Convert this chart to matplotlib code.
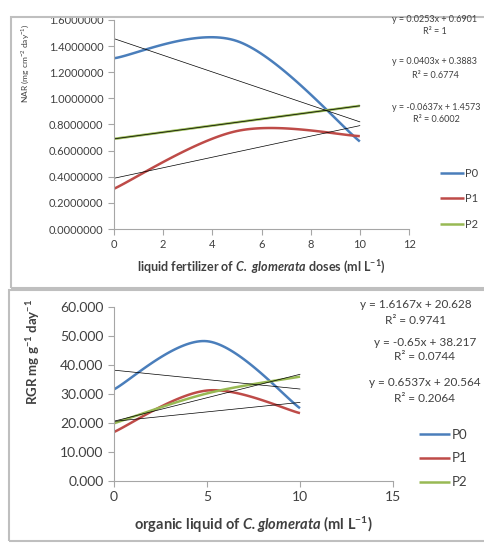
import numpy as np
import matplotlib.pyplot as plt
from matplotlib.patches import Rectangle

plt.rcParams['font.family'] = ['Lato', 'DejaVu Sans']
plt.rcParams['mathtext.fontset'] = 'custom'
plt.rcParams['mathtext.default'] = 'regular'
plt.rcParams['mathtext.bfit'] = 'Lato:italic:bold'
plt.rcParams['mathtext.it'] = 'Lato:italic'

# top chart: NAR
nar_x = [0, 5, 10]
nar_p0 = [1.307, 1.439, 0.670]
nar_p1 = [0.308, 0.750, 0.711]
nar_p2 = [0.690, 0.817, 0.943]
nar_fits = [(0.0253, 0.6901, '1'), (0.0403, 0.3883, '0.6774'), (-0.0637, 1.4573, '0.6002')]

# bottom chart: RGR
rgr_x = [0, 5, 10]
rgr_p0 = [31.6, 48.2, 25.1]
rgr_p1 = [16.9, 31.2, 23.4]
rgr_p2 = [19.9, 30.2, 36.0]
rgr_fits = [(1.6167, 20.628, '0.9741'), (-0.65, 38.217, '0.0744'), (0.6537, 20.564, '0.2064')]

series_names = ['P0', 'P1', 'P2']
colors = ['#4A7EBB', '#BE4B48', '#98B954']
grey = '#404040'


def smooth(xs, ys, n=40):
    # excel-like smoothed line: bezier segments with catmull-rom handles
    p = np.column_stack([xs, ys]).astype(float)
    ext = np.vstack([p[0], p, p[-1]])
    out = []
    t = np.linspace(0, 1, n)[:, None]
    for i in range(len(p) - 1):
        a, b = ext[i + 1], ext[i + 2]
        c1 = a + (ext[i + 2] - ext[i]) / 6
        c2 = b - (ext[i + 3] - ext[i + 1]) / 6
        seg = (1 - t) ** 3 * a + 3 * (1 - t) ** 2 * t * c1 + 3 * (1 - t) * t ** 2 * c2 + t ** 3 * b
        out.append(seg)
    pts = np.vstack(out)
    return pts[:, 0], pts[:, 1]


def style_axes(ax):
    for s in ['top', 'right']:
        ax.spines[s].set_visible(False)
    for s in ['left', 'bottom']:
        ax.spines[s].set_color('#A6A6A6')
        ax.spines[s].set_linewidth(0.8)
    ax.tick_params(direction='out', length=4, width=0.8, color='#A6A6A6', labelcolor=grey)


fig = plt.figure(figsize=(4.84, 5.44), dpi=100)

# panel frames
fig.patches.append(Rectangle((11 / 484, 1 - 288 / 544), 1, 271 / 544, transform=fig.transFigure,
                             fill=False, edgecolor='#BFBFBF', linewidth=1.5))
fig.patches.append(Rectangle((9 / 484, 1 - 541 / 544), 1, 251 / 544, transform=fig.transFigure,
                             fill=False, edgecolor='#BFBFBF', linewidth=1.5))

# ---- top ----
ax1 = fig.add_axes([114 / 484, 1 - 229 / 544, 295 / 484, 209 / 544])
for ys, c, name in zip([nar_p0, nar_p1, nar_p2], colors, series_names):
    sx, sy = smooth(nar_x, ys)
    ax1.plot(sx, sy, color=c, lw=1.8, label=name, solid_capstyle='butt')
xx = np.array([0, 10])
for m, b, r2 in nar_fits:
    ax1.plot(xx, m * xx + b, color='black', lw=0.5)
ax1.set_xlim(0, 12)
ax1.set_ylim(0, 1.6)
ax1.set_xticks(range(0, 13, 2))
ax1.set_yticks(np.arange(0, 1.61, 0.2))
ax1.set_yticklabels([f'{v:.7f}' for v in np.arange(0, 1.61, 0.2)])
style_axes(ax1)
ax1.tick_params(labelsize=8)
ax1.set_xlabel(r'liquid fertilizer of $\mathbfit{C.\ glomerata}$ doses (ml L$^{-1}$)',
               fontsize=9, fontweight='bold', color=grey, labelpad=6)
fig.text(25 / 484, 1 - 63 / 544, r'NAR (mg cm$^{-2}$ day$^{-1}$)', rotation=90, fontsize=6,
         color=grey, ha='center', va='center')
eq_pos = [(435, 19, 32), (435, 62, 75), (436, 107, 120)]
for (m, b, r2), (xc, y1, y2) in zip(nar_fits, eq_pos):
    sign = '+' if b >= 0 else '-'
    fig.text(xc / 484, 1 - y1 / 544, f'y = {m:.4f}x {sign} {b:.4f}', fontsize=6.5, color=grey,
             ha='center', va='center')
    fig.text(xc / 484, 1 - y2 / 544, f'R² = {r2}', fontsize=6.5, color=grey, ha='center', va='center')
ax1.legend(loc='center left', bbox_to_anchor=(1.07, 0.145), frameon=False, fontsize=8,
           handlelength=2.2, handletextpad=0.1, labelspacing=1.3, labelcolor=grey)

# ---- bottom ----
ax2 = fig.add_axes([114 / 484, 1 - 481 / 544, 279 / 484, 174 / 544])
for ys, c, name in zip([rgr_p0, rgr_p1, rgr_p2], colors, series_names):
    sx, sy = smooth(rgr_x, ys)
    ax2.plot(sx, sy, color=c, lw=1.8, label=name, solid_capstyle='butt')
for m, b, r2 in rgr_fits:
    ax2.plot(xx, m * xx + b, color='black', lw=0.5)
ax2.set_xlim(0, 15)
ax2.set_ylim(0, 60)
ax2.set_xticks([0, 5, 10, 15])
ax2.set_yticks(np.arange(0, 61, 10))
ax2.set_yticklabels([f'{v:.3f}' for v in np.arange(0, 61, 10)])
style_axes(ax2)
ax2.tick_params(labelsize=10)
ax2.set_xlabel(r'organic liquid of $\mathbfit{C.glomerata}$ (ml L$^{-1}$)',
               fontsize=10.5, fontweight='bold', color=grey, labelpad=8)
fig.text(33 / 484, 1 - 352 / 544, r'RGR mg g$^{-1}$ day$^{-1}$', rotation=90, fontsize=9.5,
         fontweight='bold', color=grey, ha='center', va='center')
eq_pos2 = [(416, 305, 320), (425, 343, 357), (425, 383, 398)]
for (m, b, r2), (xc, y1, y2) in zip(rgr_fits, eq_pos2):
    sign = '+' if b >= 0 else '-'
    ms = f'{m:.4f}'.rstrip('0')
    fig.text(xc / 484, 1 - y1 / 544, f'y = {ms}x {sign} {b:.3f}', fontsize=8.5, color=grey,
             ha='center', va='center')
    fig.text(xc / 484, 1 - y2 / 544, f'R² = {r2}', fontsize=8.5, color=grey, ha='center', va='center')
ax2.legend(loc='center left', bbox_to_anchor=(1.05, 0.13), frameon=False, fontsize=9.5,
           handlelength=2.4, handletextpad=0.1, labelspacing=0.9, labelcolor=grey)

fig.savefig('out.png', dpi=100)
